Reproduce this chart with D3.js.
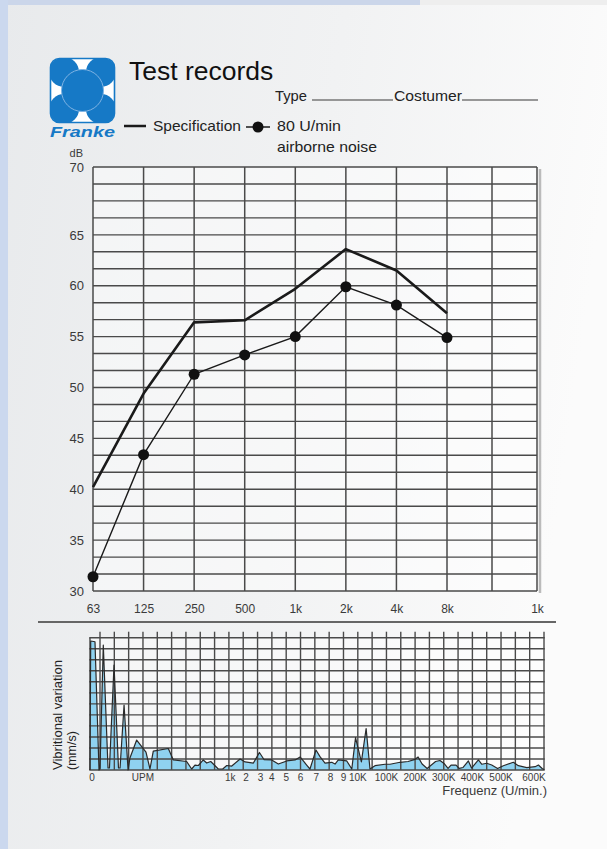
<!DOCTYPE html>
<html><head><meta charset="utf-8">
<script src="https://cdn.jsdelivr.net/npm/d3@7"></script>
<style>html,body{margin:0;padding:0;background:#f4f5f6;} svg{display:block;font-family:"Liberation Sans",Arial,Helvetica,sans-serif;}</style>
</head><body><svg id="c" width="607" height="849"></svg>
<script>
// ---------- DATA ----------
const dbTicks = [30, 35, 40, 45, 50, 55, 60, 65, 70];
const dbTickRows = [25, 22, 19, 16, 13, 10, 7, 4, 0];   // grid row on which each dB label sits
const freqLabels = ["63", "125", "250", "500", "1k", "2k", "4k", "8k", "", "1k"];
const specification = [40.2, 49.4, 56.4, 56.6, 59.7, 63.6, 61.5, 57.3];
const airborne80 = [31.4, 43.4, 51.3, 53.2, 55.0, 59.9, 58.1, 54.9];

// vibration spectrum (x in grid columns, y in grid rows)
const spectrumX = [-0.70,-0.65,-0.35,-0.07,0.00,0.23,0.56,0.66,0.98,1.29,1.40,1.68,1.96,2.09,2.56,3.21,3.49,3.72,4.77,5.12,6.05,6.40,6.63,6.87,7.21,7.45,7.73,7.91,8.26,8.57,8.85,9.20,9.78,10.13,10.71,11.13,11.45,11.99,12.45,13.04,13.62,13.97,14.43,14.66,15.08,15.36,15.71,16.18,16.41,16.64,17.23,17.58,17.84,18.25,18.58,18.85,19.20,19.90,20.25,20.95,21.51,22.00,22.21,22.49,22.84,23.43,23.74,24.02,24.30,24.51,24.86,25.07,25.35,25.72,25.94,26.42,26.66,27.00,27.35,27.76,28.16,28.86,29.21,29.80,30.38,30.61,30.87,31.01];
const spectrumY = [0,11.70,11.63,0,0.18,11.33,0.18,0.18,9.52,0.18,0.18,5.89,0,1.09,2.72,1.63,0.09,1.72,1.95,0.91,0.77,0.09,0.45,0.41,0.91,0.63,0.77,0.54,0.09,0.09,0.41,0.36,1.00,0.73,0.63,1.59,0.95,0.91,0.54,0.82,0.91,1.18,0.45,0.09,1.81,1.21,0.63,0.70,0.54,0.91,0.82,0.09,2.93,0.73,3.76,0.09,0.39,0.52,0.52,0.70,0.77,0.97,1.18,0.54,0.14,0.77,0.86,0.59,0.14,0.45,0.45,0.14,0.23,0.82,0.18,0.91,0.52,0.61,0.45,0.14,0.39,0.70,0.39,0.21,0.30,0.45,0.14,0.05];
const spectrumTickLabels = ["0", "UPM", "1k", "2", "3", "4", "5", "6", "7", "8", "9", "10K", "100K", "200K", "300K", "400K", "500K", "600K"];
const spectrumTickCols = [-0.55, 3, 9.1, 10.2, 11.2, 12, 13, 14, 15.1, 16.1, 17, 18, 20, 22, 24, 26, 28, 30.3];

// ---------- SETUP ----------
const svg = d3.select("#c");
const defs = svg.append("defs");
const bg = defs.append("linearGradient").attr("id", "bg")
  .attr("x1", 0).attr("y1", 0).attr("x2", 1).attr("y2", 0.2);
bg.append("stop").attr("offset", 0).attr("stop-color", "#e8eaec");
bg.append("stop").attr("offset", 0.55).attr("stop-color", "#f1f2f3");
bg.append("stop").attr("offset", 1).attr("stop-color", "#fbfbfb");
svg.append("rect").attr("width", 607).attr("height", 849).attr("fill", "url(#bg)");
svg.append("rect").attr("x", 0).attr("y", 0).attr("width", 420).attr("height", 5).attr("fill", "#cbd6ea");
svg.append("rect").attr("x", 420).attr("y", 0).attr("width", 187).attr("height", 5).attr("fill", "#eeeeee");
svg.append("rect").attr("x", 0).attr("y", 0).attr("width", 8).attr("height", 849).attr("fill", "#cbd8ee");

const ink = "#1a1a1a", grid = "#4a4a4a", txt = "#3a3a3a";

// ---------- LOGO ----------
const blue = "#1679c6";
defs.append("clipPath").attr("id", "logoClip").append("rect")
  .attr("x", 50.5).attr("y", 58.5).attr("width", 64).attr("height", 64).attr("rx", 9);
const logo = svg.append("g");
logo.append("rect").attr("x", 50.5).attr("y", 58.5).attr("width", 64).attr("height", 64).attr("rx", 9)
  .attr("fill", "#ffffff").attr("stroke", blue).attr("stroke-width", 1.6);
const lc = logo.append("g").attr("clip-path", "url(#logoClip)");
[[64, 72], [101, 72], [64, 109], [101, 109]].forEach(c =>
  lc.append("circle").attr("cx", c[0]).attr("cy", c[1]).attr("r", 15).attr("fill", blue));
lc.append("circle").attr("cx", 82.5).attr("cy", 90.5).attr("r", 21).attr("fill", blue)
  .attr("stroke", "#7fb3e3").attr("stroke-width", 1);
logo.append("text").attr("x", 50).attr("y", 137).attr("font-size", 15).attr("font-weight", "bold")
  .attr("font-style", "italic").attr("fill", blue).attr("textLength", 65)
  .attr("lengthAdjust", "spacingAndGlyphs").text("Franke");

// ---------- HEADER ----------
svg.append("text").attr("x", 129).attr("y", 80).attr("font-size", 26.5).attr("fill", "#111").text("Test records");
svg.append("text").attr("x", 275).attr("y", 101).attr("font-size", 15).attr("fill", "#222")
  .attr("textLength", 32).attr("lengthAdjust", "spacingAndGlyphs").text("Type");
svg.append("line").attr("x1", 312).attr("x2", 393).attr("y1", 100).attr("y2", 100).attr("stroke", "#777").attr("stroke-width", 1.5);
svg.append("text").attr("x", 394).attr("y", 101).attr("font-size", 15).attr("fill", "#222")
  .attr("textLength", 68).attr("lengthAdjust", "spacingAndGlyphs").text("Costumer");
svg.append("line").attr("x1", 462).attr("x2", 538).attr("y1", 100).attr("y2", 100).attr("stroke", "#777").attr("stroke-width", 1.5);

svg.append("line").attr("x1", 124).attr("x2", 146).attr("y1", 126).attr("y2", 126).attr("stroke", ink).attr("stroke-width", 2.5);
svg.append("text").attr("x", 153).attr("y", 131).attr("font-size", 15).attr("fill", "#222")
  .attr("textLength", 88).attr("lengthAdjust", "spacingAndGlyphs").text("Specification");
svg.append("line").attr("x1", 246).attr("x2", 270).attr("y1", 127).attr("y2", 127).attr("stroke", ink).attr("stroke-width", 1.5);
svg.append("circle").attr("cx", 258).attr("cy", 127).attr("r", 5.5).attr("fill", "#111");
svg.append("text").attr("x", 277).attr("y", 131).attr("font-size", 15).attr("fill", "#222")
  .attr("textLength", 64).attr("lengthAdjust", "spacingAndGlyphs").text("80 U/min");
svg.append("text").attr("x", 277).attr("y", 152).attr("font-size", 15).attr("fill", "#222")
  .attr("textLength", 100).attr("lengthAdjust", "spacingAndGlyphs").text("airborne noise");

// ---------- TOP CHART ----------
const yRow = d3.scaleLinear().domain([0, 25]).range([167, 591]);
const yTop = d3.scaleLinear().domain(dbTicks).range(dbTickRows.map(r => yRow(r)));
const xTop = d3.scaleLinear().domain([0, 7, 9]).range([93, 447, 537]);

const topG = svg.append("g");
topG.append("rect").attr("x", xTop(0)).attr("y", yRow(0)).attr("width", xTop(9) - xTop(0))
  .attr("height", yRow(25) - yRow(0)).attr("fill", "#ffffff").attr("opacity", 0.45);
topG.append("line").attr("x1", 540).attr("x2", 540).attr("y1", 169).attr("y2", 593).attr("stroke", "#bbb").attr("stroke-width", 2.5);
topG.selectAll("line.h").data(d3.range(26)).join("line").attr("class", "h")
  .attr("x1", xTop(0)).attr("x2", xTop(9)).attr("y1", d => yRow(d)).attr("y2", d => yRow(d))
  .attr("stroke", grid).attr("stroke-width", 1.4);
topG.selectAll("line.v").data(d3.range(10)).join("line").attr("class", "v")
  .attr("x1", d => xTop(d)).attr("x2", d => xTop(d)).attr("y1", yRow(0)).attr("y2", yRow(25))
  .attr("stroke", grid).attr("stroke-width", 1.5);

const ya = topG.append("g").attr("transform", "translate(84,0)")
  .call(d3.axisLeft(yTop).tickValues(dbTicks).tickSize(0).tickPadding(0));
ya.select(".domain").remove();
ya.selectAll("text").attr("font-size", 13).attr("fill", txt);
ya.attr("font-family", null).attr("font-size", null);
topG.append("text").attr("x", 83).attr("y", 157).attr("text-anchor", "end").attr("font-size", 11).attr("fill", txt).text("dB");

const xa = topG.append("g").attr("transform", "translate(0,604)")
  .call(d3.axisBottom(xTop).tickValues(d3.range(10)).tickFormat(i => freqLabels[i]).tickSize(0).tickPadding(0));
xa.select(".domain").remove();
xa.selectAll("text").attr("font-size", 12).attr("fill", txt);
xa.attr("font-family", null).attr("font-size", null);

const lineTop = d3.line().x((d, i) => xTop(i)).y(d => yTop(d));
topG.append("path").datum(specification).attr("d", lineTop).attr("fill", "none")
  .attr("stroke", ink).attr("stroke-width", 2.6).attr("stroke-linejoin", "round");
topG.append("path").datum(airborne80).attr("d", lineTop).attr("fill", "none")
  .attr("stroke", ink).attr("stroke-width", 1.4);
topG.selectAll("circle.m").data(airborne80).join("circle").attr("class", "m")
  .attr("cx", (d, i) => xTop(i)).attr("cy", d => yTop(d)).attr("r", 5.5).attr("fill", "#111");

// separator
svg.append("line").attr("x1", 38).attr("x2", 556).attr("y1", 622).attr("y2", 622).attr("stroke", "#666").attr("stroke-width", 2.2);

// ---------- BOTTOM CHART ----------
const xB = d3.scaleLinear().domain([0, 31]).range([100, 544]);
const yB = d3.scaleLinear().domain([0, 12]).range([770, 637.7]);
const bot = svg.append("g");
const spectrum = spectrumX.map((x, i) => [x, spectrumY[i]]);

bot.append("rect").attr("x", xB(-0.7)).attr("y", yB(12)).attr("width", xB(31) - xB(-0.7))
  .attr("height", yB(0) - yB(12)).attr("fill", "#ffffff").attr("opacity", 0.45);
bot.append("path").datum(spectrum)
  .attr("d", d3.area().x(d => xB(d[0])).y0(yB(0)).y1(d => yB(d[1])))
  .attr("fill", "#8fd2f0");

bot.selectAll("line.h").data(d3.range(13)).join("line").attr("class", "h")
  .attr("x1", xB(-0.75)).attr("x2", xB(31.05)).attr("y1", d => yB(d)).attr("y2", d => yB(d))
  .attr("stroke", grid).attr("stroke-width", 1.4);
bot.selectAll("line.v").data(d3.range(32)).join("line").attr("class", "v")
  .attr("x1", d => xB(d)).attr("x2", d => xB(d)).attr("y1", yB(12) - 6).attr("y2", yB(0))
  .attr("stroke", grid).attr("stroke-width", 1.4);
bot.append("line").attr("x1", xB(-0.7)).attr("x2", xB(-0.7)).attr("y1", yB(12)).attr("y2", yB(0))
  .attr("stroke", grid).attr("stroke-width", 1.4);

bot.append("path").datum(spectrum)
  .attr("d", d3.line().x(d => xB(d[0])).y(d => yB(d[1])))
  .attr("fill", "none").attr("stroke", "#2a2a2a").attr("stroke-width", 1.2).attr("stroke-linejoin", "round");

bot.selectAll("text.xt").data(spectrumTickLabels).join("text").attr("class", "xt")
  .attr("x", (d, i) => xB(spectrumTickCols[i])).attr("y", 781).attr("text-anchor", "middle")
  .attr("font-size", 10).attr("fill", txt).text(d => d);

bot.append("text").attr("x", 547).attr("y", 795).attr("text-anchor", "end").attr("font-size", 13)
  .attr("fill", txt).text("Frequenz (U/min.)");
bot.append("text").attr("transform", "translate(62,770) rotate(-90)").attr("font-size", 12.5)
  .attr("fill", "#222").attr("textLength", 110).attr("lengthAdjust", "spacingAndGlyphs").text("Vibritional variation");
bot.append("text").attr("transform", "translate(76,770) rotate(-90)").attr("font-size", 12.5)
  .attr("fill", "#222").text("(mm/s)");
</script></body></html>
